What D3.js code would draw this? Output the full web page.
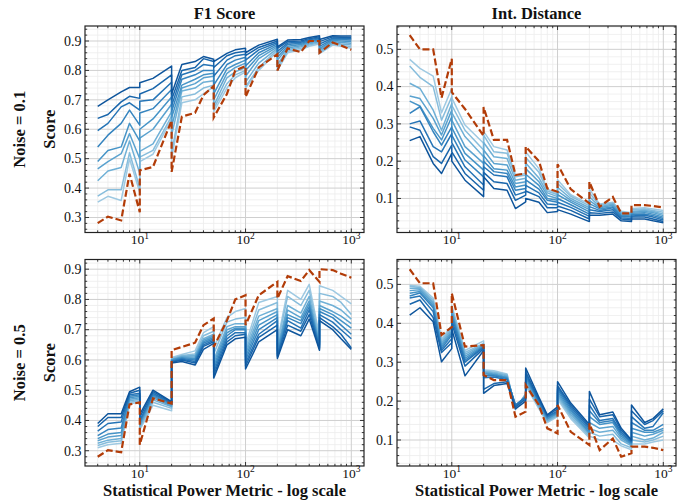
<!DOCTYPE html>
<html><head><meta charset="utf-8">
<script src="https://cdn.jsdelivr.net/npm/d3@7"></script>
<style>body{margin:0;background:#fff} svg{display:block} text{font-family:"Liberation Serif","DejaVu Serif",serif;fill:#111}</style>
</head><body><svg id="c" width="694" height="504"></svg>
<script>
// ---------- DATA ----------
const xValues = [4,5,6.67,8,10,10,13.33,20,20,25,33.33,40,50,50,66.67,80,100,100,133.3,200,200,250,333.3,400,500,500,666.7,800,1000];
const xTickValues = [10,100,1000];
const columnTitles = ["F1 Score","Int. Distance"];
const rowTitles = ["Noise = 0.1","Noise = 0.5"];
const yAxisLabel = "Score";
const xAxisLabel = "Statistical Power Metric - log scale";
const yTicksF1 = [0.3,0.4,0.5,0.6,0.7,0.8,0.9];
const yTicksDist = [0.1,0.2,0.3,0.4,0.5];

const f1Noise01Baseline = [.281,.303,.29,.449,.318,.46,.472,.63,.455,.643,.656,.716,.747,.64,.72,.80,.815,.71,.81,.855,.80,.875,.862,.90,.90,.86,.895,.885,.87];
const f1Noise01 = [
 [.678,.70,.727,.742,.742,.758,.773,.815,.72,.82,.83,.847,.838,.83,.858,.87,.875,.86,.886,.906,.88,.903,.905,.912,.918,.905,.918,.917,.917],
 [.637,.65,.693,.712,.705,.72,.738,.785,.70,.80,.81,.84,.83,.81,.85,.86,.865,.85,.878,.90,.875,.898,.90,.908,.914,.898,.914,.913,.912],
 [.595,.62,.676,.69,.665,.695,.70,.76,.68,.785,.80,.82,.815,.78,.835,.85,.855,.835,.87,.895,.865,.893,.896,.904,.91,.89,.91,.909,.908],
 [.54,.58,.62,.665,.614,.655,.67,.735,.66,.77,.785,.80,.80,.75,.82,.835,.845,.815,.86,.89,.855,.888,.892,.90,.907,.882,.906,.905,.903],
 [.49,.528,.54,.62,.56,.60,.635,.71,.64,.75,.77,.785,.79,.72,.805,.82,.835,.80,.85,.885,.845,.882,.888,.897,.904,.875,.902,.90,.898],
 [.465,.49,.517,.585,.50,.57,.60,.685,.61,.74,.755,.775,.78,.70,.79,.81,.825,.78,.84,.88,.835,.876,.884,.894,.90,.87,.898,.895,.892],
 [.425,.458,.47,.56,.45,.525,.55,.66,.58,.73,.74,.76,.765,.68,.775,.795,.81,.76,.825,.875,.82,.87,.88,.89,.897,.865,.894,.89,.886],
 [.373,.394,.394,.52,.40,.505,.528,.645,.52,.71,.72,.74,.75,.67,.755,.785,.80,.745,.81,.87,.81,.865,.875,.886,.894,.86,.89,.886,.88],
 [.352,.372,.358,.50,.385,.49,.515,.635,.50,.69,.70,.72,.745,.66,.74,.775,.795,.74,.80,.865,.80,.86,.87,.882,.89,.857,.886,.882,.875]
];

const distNoise01Baseline = [.538,.50,.50,.37,.475,.385,.34,.268,.345,.257,.257,.163,.167,.239,.20,.127,.118,.192,.125,.087,.145,.078,.104,.06,.06,.082,.082,.08,.076];
const distNoise01 = [
 [.255,.266,.194,.167,.221,.20,.149,.105,.158,.127,.122,.073,.091,.10,.09,.062,.065,.07,.058,.038,.055,.055,.058,.04,.038,.045,.045,.04,.035],
 [.292,.283,.212,.194,.243,.225,.167,.122,.17,.145,.14,.095,.109,.12,.105,.075,.075,.08,.068,.045,.062,.06,.064,.045,.042,.05,.05,.045,.038],
 [.30,.308,.239,.225,.274,.25,.185,.136,.185,.163,.158,.109,.118,.135,.115,.085,.083,.09,.076,.052,.07,.065,.07,.048,.046,.053,.055,.05,.042],
 [.328,.346,.279,.243,.292,.27,.203,.158,.20,.172,.167,.122,.127,.15,.125,.095,.09,.10,.083,.058,.078,.068,.075,.052,.05,.056,.058,.054,.046],
 [.361,.348,.288,.257,.319,.29,.221,.176,.215,.18,.176,.131,.136,.165,.135,.10,.095,.11,.09,.064,.086,.072,.078,.055,.053,.06,.062,.058,.05],
 [.375,.368,.315,.27,.337,.31,.239,.194,.23,.194,.19,.14,.145,.18,.145,.108,.10,.12,.095,.07,.095,.075,.082,.058,.056,.063,.065,.062,.054],
 [.409,.395,.337,.283,.355,.33,.266,.212,.25,.212,.207,.149,.154,.195,.155,.115,.105,.13,.10,.075,.105,.078,.085,.06,.058,.066,.068,.065,.058],
 [.455,.425,.40,.31,.373,.35,.283,.23,.27,.225,.221,.158,.163,.21,.17,.12,.11,.14,.106,.08,.115,.082,.088,.063,.06,.07,.072,.068,.063],
 [.473,.449,.428,.33,.395,.37,.297,.248,.28,.239,.23,.163,.167,.225,.18,.125,.112,.15,.11,.085,.125,.085,.09,.066,.062,.073,.075,.072,.068]
];

const f1Noise05Baseline = [.28,.302,.295,.453,.46,.32,.473,.456,.632,.643,.657,.715,.737,.643,.73,.80,.814,.715,.814,.858,.803,.877,.861,.897,.858,.90,.897,.885,.872];
const f1Noise05 = [
 [.39,.422,.422,.495,.51,.42,.50,.462,.59,.595,.583,.635,.655,.54,.65,.67,.675,.57,.66,.70,.605,.70,.68,.735,.632,.73,.70,.67,.635],
 [.38,.41,.41,.49,.50,.41,.495,.46,.592,.60,.59,.645,.66,.55,.66,.68,.685,.58,.675,.715,.61,.715,.695,.75,.636,.74,.71,.685,.64],
 [.365,.39,.395,.485,.49,.40,.49,.457,.595,.602,.595,.65,.665,.56,.67,.69,.69,.59,.685,.73,.615,.73,.705,.765,.64,.75,.725,.70,.67],
 [.35,.37,.375,.48,.485,.395,.485,.455,.597,.605,.60,.655,.67,.57,.68,.70,.70,.60,.70,.74,.62,.74,.72,.775,.645,.76,.74,.715,.685],
 [.34,.355,.36,.475,.48,.39,.48,.452,.60,.607,.605,.66,.675,.58,.69,.705,.705,.61,.715,.75,.63,.75,.73,.785,.65,.77,.75,.73,.705],
 [.333,.345,.35,.47,.475,.385,.475,.448,.60,.61,.61,.665,.68,.59,.70,.71,.71,.62,.73,.76,.635,.765,.74,.795,.655,.78,.76,.745,.72],
 [.325,.335,.34,.465,.47,.38,.468,.445,.602,.612,.615,.67,.685,.60,.71,.72,.72,.63,.745,.77,.64,.78,.755,.81,.66,.795,.78,.765,.735],
 [.317,.328,.333,.46,.465,.375,.46,.44,.605,.615,.62,.68,.695,.62,.725,.735,.74,.64,.765,.79,.65,.81,.78,.83,.67,.82,.81,.79,.75],
 [.31,.32,.325,.455,.46,.37,.45,.432,.608,.618,.63,.69,.71,.64,.74,.76,.77,.65,.79,.81,.66,.83,.80,.85,.68,.845,.83,.81,.785]
];

const distNoise05Baseline = [.539,.503,.503,.37,.39,.477,.34,.344,.267,.254,.254,.16,.173,.241,.19,.13,.117,.19,.121,.087,.143,.074,.104,.057,.066,.083,.083,.08,.074];
const distNoise05 = [
 [.421,.44,.404,.301,.335,.385,.265,.33,.22,.24,.245,.18,.20,.285,.21,.165,.185,.25,.195,.14,.225,.165,.172,.13,.10,.19,.145,.155,.18],
 [.449,.46,.415,.325,.35,.40,.29,.335,.23,.245,.25,.185,.205,.275,.205,.163,.18,.24,.19,.135,.205,.16,.165,.125,.098,.175,.14,.15,.175],
 [.465,.47,.43,.33,.36,.41,.30,.338,.26,.262,.255,.19,.21,.27,.20,.16,.175,.235,.185,.13,.19,.15,.155,.12,.095,.16,.13,.135,.17],
 [.47,.478,.44,.335,.37,.42,.305,.34,.265,.265,.258,.19,.21,.265,.198,.158,.172,.23,.18,.125,.175,.145,.15,.115,.093,.145,.125,.125,.14],
 [.477,.482,.445,.34,.375,.425,.31,.342,.27,.268,.26,.188,.212,.26,.195,.155,.17,.225,.175,.12,.16,.14,.145,.11,.09,.13,.12,.12,.13],
 [.484,.486,.45,.345,.38,.43,.315,.344,.272,.27,.262,.185,.215,.255,.19,.153,.168,.22,.17,.118,.145,.13,.135,.105,.088,.12,.11,.115,.125],
 [.49,.49,.455,.35,.385,.435,.32,.346,.275,.272,.265,.183,.215,.25,.187,.15,.165,.215,.165,.115,.13,.12,.125,.10,.085,.11,.10,.105,.12],
 [.495,.492,.46,.355,.39,.44,.325,.348,.277,.275,.268,.18,.218,.245,.183,.148,.163,.21,.16,.11,.12,.11,.115,.09,.08,.10,.095,.10,.11],
 [.498,.495,.465,.36,.395,.445,.33,.355,.28,.278,.27,.178,.22,.24,.18,.145,.16,.205,.155,.105,.11,.10,.10,.085,.075,.09,.09,.095,.10]
];

// ---------- LAYOUT ----------
const svg = d3.select("#c");
const panelW = 279, panelH = 206.5;
const colLeft = [85, 397];
const rowTop = [26, 259.5];
const xDomain = [Math.pow(10, Math.log10(4) - 0.12), Math.pow(10, 3.12)];

const panels = [
  {row:0, col:0, series:f1Noise01,   baseline:f1Noise01Baseline,   yDomain:[0.249,0.951],  yTicks:yTicksF1},
  {row:0, col:1, series:distNoise01, baseline:distNoise01Baseline, yDomain:[0.0087,0.5626], yTicks:yTicksDist},
  {row:1, col:0, series:f1Noise05,   baseline:f1Noise05Baseline,   yDomain:[0.2495,0.932], yTicks:yTicksF1},
  {row:1, col:1, series:distNoise05, baseline:distNoise05Baseline, yDomain:[0.0332,0.564], yTicks:yTicksDist}
];

const nSeries = f1Noise01.length;
const seriesColor = i => d3.interpolateBlues(0.86 - i * (0.86 - 0.37) / (nSeries - 1));
const baselineColor = "#b23c08";

const xMinor = [];
[1,10,100].forEach(d => { for (let k = 2; k <= 9; k++) { const v = k*d; if (v > xDomain[0] && v < xDomain[1]) xMinor.push(v); } });

panels.forEach((p, pi) => {
  const left = colLeft[p.col], top = rowTop[p.row];
  const g = svg.append("g").attr("transform", `translate(${left},${top})`);
  const x = d3.scaleLog().domain(xDomain).range([0, panelW]);
  const y = d3.scaleLinear().domain(p.yDomain).range([panelH, 0]);
  const yMinor = d3.range(Math.ceil(p.yDomain[0]/0.02)*0.02, p.yDomain[1], 0.02)
    .filter(v => !p.yTicks.some(t => Math.abs(t - v) < 1e-6));

  // grid
  const grid = g.append("g");
  grid.selectAll(".xm").data(xMinor).join("line")
    .attr("x1", d => x(d)).attr("x2", d => x(d)).attr("y1", 0).attr("y2", panelH)
    .attr("stroke", "#ececec").attr("stroke-width", 0.8);
  grid.selectAll(".ym").data(yMinor).join("line")
    .attr("x1", 0).attr("x2", panelW).attr("y1", d => y(d)).attr("y2", d => y(d))
    .attr("stroke", "#ececec").attr("stroke-width", 0.8);
  grid.selectAll(".xM").data(xTickValues).join("line")
    .attr("x1", d => x(d)).attr("x2", d => x(d)).attr("y1", 0).attr("y2", panelH)
    .attr("stroke", "#cfcfcf").attr("stroke-width", 1);
  grid.selectAll(".yM").data(p.yTicks).join("line")
    .attr("x1", 0).attr("x2", panelW).attr("y1", d => y(d)).attr("y2", d => y(d))
    .attr("stroke", "#cfcfcf").attr("stroke-width", 1);

  // clip
  const cid = "clip" + pi;
  g.append("clipPath").attr("id", cid).append("rect").attr("width", panelW).attr("height", panelH);
  const plot = g.append("g").attr("clip-path", `url(#${cid})`);

  const line = d3.line().x((d, j) => x(xValues[j])).y(d => y(d));
  const order = d3.range(nSeries).reverse();
  order.forEach(i => {
    plot.append("path").datum(p.series[i]).attr("d", line)
      .attr("fill", "none").attr("stroke", seriesColor(i)).attr("stroke-width", 1.5)
      .attr("stroke-linejoin", "round");
  });
  plot.append("path").datum(p.baseline).attr("d", line)
    .attr("fill", "none").attr("stroke", baselineColor).attr("stroke-width", 2.2)
    .attr("stroke-dasharray", "7,3");

  // frame
  g.append("rect").attr("width", panelW).attr("height", panelH)
    .attr("fill", "none").attr("stroke", "#222").attr("stroke-width", 1.2);

  // ticks (inward, all sides)
  const tk = g.append("g").attr("stroke", "#222").attr("stroke-width", 0.9);
  [[xTickValues, 4], [xMinor, 2.2]].forEach(([vals, len]) => {
    vals.forEach(v => {
      tk.append("line").attr("x1", x(v)).attr("x2", x(v)).attr("y1", panelH).attr("y2", panelH - len);
      tk.append("line").attr("x1", x(v)).attr("x2", x(v)).attr("y1", 0).attr("y2", len);
    });
  });
  [[p.yTicks, 4], [yMinor, 2.2]].forEach(([vals, len]) => {
    vals.forEach(v => {
      tk.append("line").attr("x1", 0).attr("x2", len).attr("y1", y(v)).attr("y2", y(v));
      tk.append("line").attr("x1", panelW).attr("x2", panelW - len).attr("y1", y(v)).attr("y2", y(v));
    });
  });

  // tick labels
  p.yTicks.forEach(v => {
    g.append("text").attr("x", -3.5).attr("y", y(v) + 4.8).attr("text-anchor", "end")
      .attr("font-size", 14).text(d3.format(".1f")(v));
  });
  xTickValues.forEach(v => {
    const t = g.append("text").attr("x", x(v)).attr("y", panelH + 11.5).attr("text-anchor", "middle")
      .attr("font-size", 13.5);
    t.append("tspan").text("10");
    t.append("tspan").attr("dy", -5.5).attr("font-size", 9.5).text(String(Math.round(Math.log10(v))));
  });

  if (p.row === 0) {
    g.append("text").attr("x", panelW / 2).attr("y", -7).attr("text-anchor", "middle")
      .attr("font-size", 16.5).attr("font-weight", "bold").text(columnTitles[p.col]);
  }
  if (p.row === 1) {
    g.append("text").attr("x", panelW / 2).attr("y", panelH + 30).attr("text-anchor", "middle")
      .attr("font-size", 16.5).attr("font-weight", "bold").text(xAxisLabel);
  }
  if (p.col === 0) {
    g.append("text").attr("transform", `translate(${-30},${panelH/2}) rotate(-90)`)
      .attr("text-anchor", "middle").attr("font-size", 16.5).attr("font-weight", "bold").text(yAxisLabel);
    g.append("text").attr("transform", `translate(${-60},${panelH/2}) rotate(-90)`)
      .attr("text-anchor", "middle").attr("font-size", 16.5).attr("font-weight", "bold").text(rowTitles[p.row]);
  }
});
</script></body></html>
